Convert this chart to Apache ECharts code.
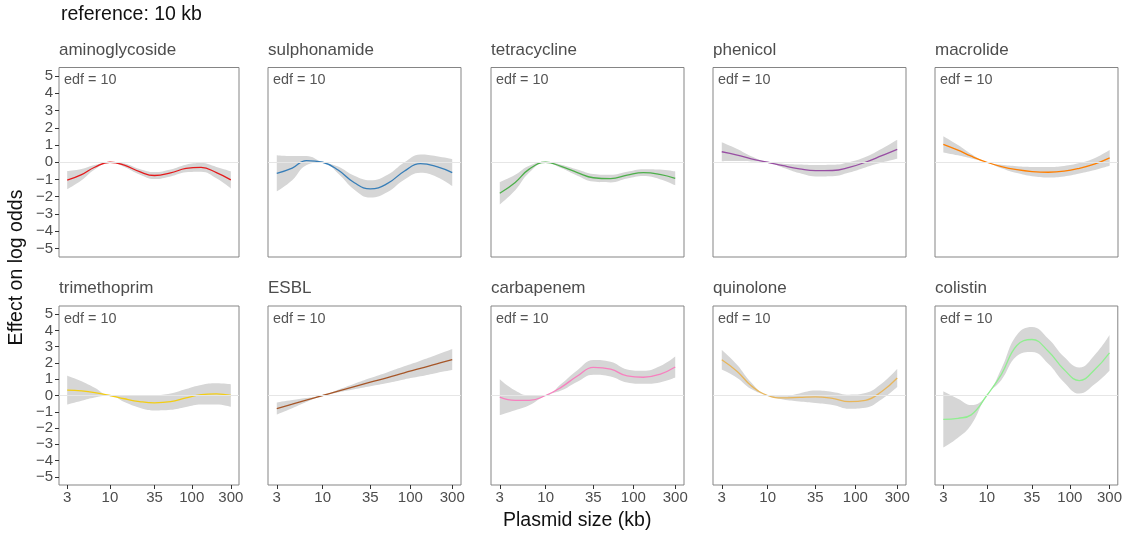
<!DOCTYPE html>
<html>
<head>
<meta charset="utf-8">
<script src="https://cdn.jsdelivr.net/npm/echarts@6/dist/echarts.min.js"></script>
<style>
html,body{margin:0;padding:0;background:#fff;}
#chart{width:1125px;height:535px;}
</style>
</head>
<body>
<div id="chart"></div>
<script>
// ---------- data ----------
const sizes = [3, 4.5, 6.5, 10, 15, 23, 35, 55, 85, 130, 200, 300];
const classes = ['aminoglycoside','sulphonamide','tetracycline','phenicol','macrolide',
                 'trimethoprim','ESBL','carbapenem','quinolone','colistin'];
const lineColors = ['#E41A1C','#377EB8','#4DAF4A','#984EA3','#FF7F00',
                    '#F3CD13','#A65628','#F781BF','#E8B65A','#90EE90'];
const edfLabels = ['edf = 10','edf = 10','edf = 10','edf = 10','edf = 10',
                   'edf = 10','edf = 10','edf = 10','edf = 10','edf = 10'];
const xTicks = [3, 10, 35, 100, 300];
const yTicks = [-5, -4, -3, -2, -1, 0, 1, 2, 3, 4, 5];
const mainTitle = 'reference: 10 kb';
const xTitle = 'Plasmid size (kb)';
const yTitle = 'Effect on log odds';

// fitted smooth (effect on log odds) at each plasmid size
const fitAminoglycoside = [-1.04,-0.72,-0.29,0,-0.17,-0.55,-0.77,-0.62,-0.36,-0.30,-0.60,-1.02];
const fitSulphonamide   = [-0.64,-0.34,0.10,0,-0.45,-1.19,-1.55,-1.23,-0.52,-0.08,-0.25,-0.60];
const fitTetracycline   = [-1.80,-1.17,-0.40,0,-0.24,-0.60,-0.90,-0.95,-0.75,-0.60,-0.70,-0.93];
const fitPhenicol       = [0.61,0.42,0.20,0,-0.20,-0.38,-0.49,-0.48,-0.30,0.00,0.38,0.75];
const fitMacrolide      = [1.04,0.70,0.35,0,-0.25,-0.43,-0.54,-0.58,-0.52,-0.35,-0.10,0.25];
const fitTrimethoprim   = [0.33,0.28,0.18,0,-0.20,-0.37,-0.45,-0.38,-0.15,0.05,0.10,0.00];
const fitESBL           = [-0.80,-0.53,-0.28,0,0.27,0.55,0.82,1.10,1.39,1.66,1.95,2.21];
const fitCarbapenem     = [-0.10,-0.30,-0.30,0,0.50,1.20,1.73,1.62,1.20,1.12,1.30,1.75];
const fitQuinolone      = [2.20,1.48,0.60,0,-0.15,-0.12,-0.08,-0.18,-0.38,-0.30,0.25,1.08];
const fitColistin       = [-1.47,-1.40,-1.19,0,1.30,3.07,3.44,2.72,1.60,0.92,1.60,2.62];

// half-width of the confidence ribbon at each plasmid size
const bandAminoglycoside = [0.53,0.33,0.13,0,0.10,0.16,0.20,0.20,0.22,0.25,0.33,0.50];
const bandSulphonamide   = [1.05,0.70,0.27,0,0.20,0.40,0.50,0.50,0.50,0.53,0.60,0.78];
const bandTetracycline   = [0.65,0.45,0.20,0,0.10,0.18,0.22,0.22,0.20,0.20,0.28,0.40];
const bandPhenicol       = [0.55,0.35,0.15,0,0.12,0.25,0.33,0.33,0.30,0.30,0.40,0.55];
const bandMacrolide      = [0.47,0.30,0.13,0,0.10,0.20,0.27,0.30,0.30,0.30,0.35,0.46];
const bandTrimethoprim   = [0.89,0.60,0.30,0,0.20,0.38,0.47,0.50,0.55,0.60,0.65,0.69];
const bandESBL           = [0.37,0.25,0.12,0,0.08,0.17,0.25,0.33,0.40,0.48,0.56,0.65];
const bandCarbapenem     = [1.10,0.60,0.30,0,0.20,0.35,0.45,0.45,0.40,0.40,0.50,0.65];
const bandQuinolone      = [0.60,0.40,0.20,0,0.10,0.25,0.38,0.40,0.43,0.45,0.48,0.56];
const bandColistin       = [1.73,1.20,0.60,0,0.35,0.65,0.77,0.77,0.78,0.80,0.90,1.10];

const fits = [fitAminoglycoside, fitSulphonamide, fitTetracycline, fitPhenicol, fitMacrolide,
              fitTrimethoprim, fitESBL, fitCarbapenem, fitQuinolone, fitColistin];
const bands = [bandAminoglycoside, bandSulphonamide, bandTetracycline, bandPhenicol, bandMacrolide,
               bandTrimethoprim, bandESBL, bandCarbapenem, bandQuinolone, bandColistin];

// ---------- layout ----------
const colLeft = [59, 268, 491, 713, 935];
const colWidth = [180, 193, 193, 193, 183];
const rowTop = [67.5, 306];
const rowHeight = [189.5, 179];
const FONT = '"Liberation Sans", Arial, Helvetica, sans-serif';
const xMin = Math.min(...xTicks) / Math.pow(10, 0.1);
const xMax = Math.max(...xTicks) * Math.pow(10, 0.1);
const SMOOTH = 0.45;

const grids = [], xAxes = [], yAxes = [], series = [], graphics = [];

classes.forEach((name, i) => {
  const r = Math.floor(i / 5), c = i % 5;
  const isBottom = r === 1, isLeft = c === 0;
  grids.push({
    left: colLeft[c], top: rowTop[r], width: colWidth[c], height: rowHeight[r],
    show: true, borderColor: '#858585', borderWidth: 1, backgroundColor: '#fff'
  });
  xAxes.push({
    type: 'log', logBase: 10, gridIndex: i, min: xMin, max: xMax,
    axisLine: { show: false, onZero: false }, splitLine: { show: false },
    axisTick: { show: isBottom, customValues: xTicks, length: 4, lineStyle: { color: '#333', width: 1 } },
    axisLabel: { show: isBottom, customValues: xTicks, margin: 5, fontSize: 15, color: '#4d4d4d', fontFamily: FONT,
                 formatter: v => String(Math.round(v)) }
  });
  yAxes.push({
    type: 'value', gridIndex: i, min: -5.5, max: 5.5,
    axisLine: { show: false, onZero: false }, splitLine: { show: false },
    axisTick: { show: isLeft, customValues: yTicks, length: 4, lineStyle: { color: '#333', width: 1 } },
    axisLabel: { show: isLeft, customValues: yTicks, margin: 6, fontSize: 15, color: '#4d4d4d', fontFamily: FONT,
                 formatter: v => (v < 0 ? '\u2212' + Math.abs(v) : String(v)) }
  });
  // data rows are [value, size] so that the stack runs along the value (y) dimension
  const lower = sizes.map((s, k) => [fits[i][k] - bands[i][k], s]);
  const width = sizes.map((s, k) => [2 * bands[i][k], s]);
  const fit = sizes.map((s, k) => [fits[i][k], s]);
  const enc = { x: 1, y: 0 };
  series.push({
    type: 'line', xAxisIndex: i, yAxisIndex: i, data: lower, encode: enc,
    stack: 'band' + i, stackStrategy: 'all',
    smooth: SMOOTH, symbol: 'none', silent: true, z: 1,
    lineStyle: { opacity: 0 },
    markLine: { silent: true, symbol: 'none', label: { show: false }, animation: false,
      lineStyle: { color: '#e6e6e6', width: 1, type: 'solid' }, data: [{ yAxis: 0 }] }
  });
  series.push({
    type: 'line', xAxisIndex: i, yAxisIndex: i, data: width, encode: enc,
    stack: 'band' + i, stackStrategy: 'all',
    smooth: SMOOTH, symbol: 'none', silent: true, z: 2,
    lineStyle: { opacity: 0 }, areaStyle: { color: '#D6D6D6', opacity: 1 }
  });
  series.push({
    type: 'line', xAxisIndex: i, yAxisIndex: i, data: fit, encode: enc, name,
    smooth: SMOOTH, symbol: 'none', z: 3,
    lineStyle: { color: lineColors[i], width: 1.3 }
  });
  // panel title
  graphics.push({ type: 'text', left: colLeft[c], top: rowTop[r] - 26,
    style: { text: name, font: '17px ' + FONT, fill: '#4d4d4d' } });
  // edf annotation
  graphics.push({ type: 'text', left: colLeft[c] + 5, top: rowTop[r] + 6, z: 10,
    style: { text: edfLabels[i], font: '14.4px ' + FONT, fill: '#555' } });
});

graphics.push({ type: 'text', left: 61, top: 5, style: { text: mainTitle, font: '19.5px ' + FONT, fill: '#111' } });
graphics.push({ type: 'text', left: 503, top: 511, style: { text: xTitle, font: '19.5px ' + FONT, fill: '#111' } });
graphics.push({ type: 'text', left: 7, top: 'middle', rotation: Math.PI / 2,
  style: { text: yTitle, font: '19.5px ' + FONT, fill: '#111' } });

const chart = echarts.init(document.getElementById('chart'), null, { renderer: 'canvas' });
chart.setOption({
  animation: false,
  backgroundColor: '#fff',
  grid: grids, xAxis: xAxes, yAxis: yAxes, series: series, graphic: graphics
});
</script>
</body>
</html>
